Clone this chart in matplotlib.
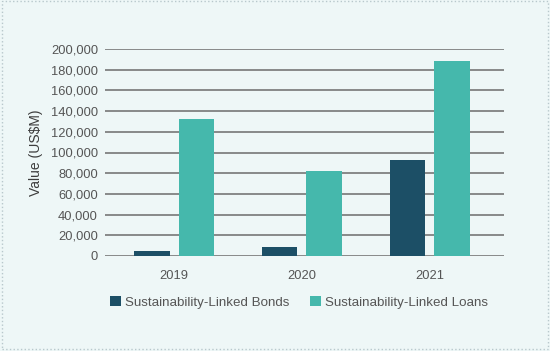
import numpy as np
import matplotlib.pyplot as plt
from matplotlib.patches import Rectangle
from matplotlib.ticker import FuncFormatter

years = ['2019', '2020', '2021']
bonds = [4500, 8700, 92800]
loans = [132000, 82000, 188500]
series_names = ['Sustainability-Linked Bonds', 'Sustainability-Linked Loans']

bg = '#eef7f7'
c_bonds = '#1c4f66'
c_loans = '#45b8ac'
txt = '#555555'

plt.rcParams['font.family'] = ['Liberation Sans', 'DejaVu Sans']

fig = plt.figure(figsize=(5.5, 3.51), dpi=100, facecolor=bg)
fig.patches.append(Rectangle((0.004, 0.006), 0.992, 0.99, transform=fig.transFigure,
                             fill=False, edgecolor='#b8c8cc', linestyle=':', linewidth=1))
ax = fig.add_axes([105/550, 1-256/351, 399/550, 207/351])
ax.set_facecolor(bg)

x = np.arange(len(years))
w = 0.275
ax.bar(x - 0.173, bonds, w, color=c_bonds, label=series_names[0], zorder=3)
ax.bar(x + 0.173, loans, w, color=c_loans, label=series_names[1], zorder=3)

ax.set_xlim(-0.54, 2.58)
ax.set_ylim(0, 200000)
ax.set_yticks(np.arange(0, 200001, 20000))
ax.yaxis.set_major_formatter(FuncFormatter(lambda v, p: f'{int(v):,}'))
ax.set_xticks(x)
ax.set_xticklabels(years)
ax.grid(axis='y', color='#777777', linewidth=1.2, zorder=0)
ax.tick_params(axis='both', length=0, labelsize=9.3, colors=txt, pad=5)
ax.tick_params(axis='x', pad=10)
for s in ax.spines.values():
    s.set_visible(False)

ax.set_ylabel('Value (US$M)', fontsize=10, color='#3d3d3d', labelpad=6)

leg = ax.legend(loc='center', bbox_to_anchor=(0.486, -0.225), ncol=2, frameon=False,
                fontsize=9.6, handlelength=0.8, handleheight=0.8, handletextpad=0.3,
                columnspacing=1.6, labelcolor=txt)

fig.savefig('out.png', dpi=100, facecolor=bg)
